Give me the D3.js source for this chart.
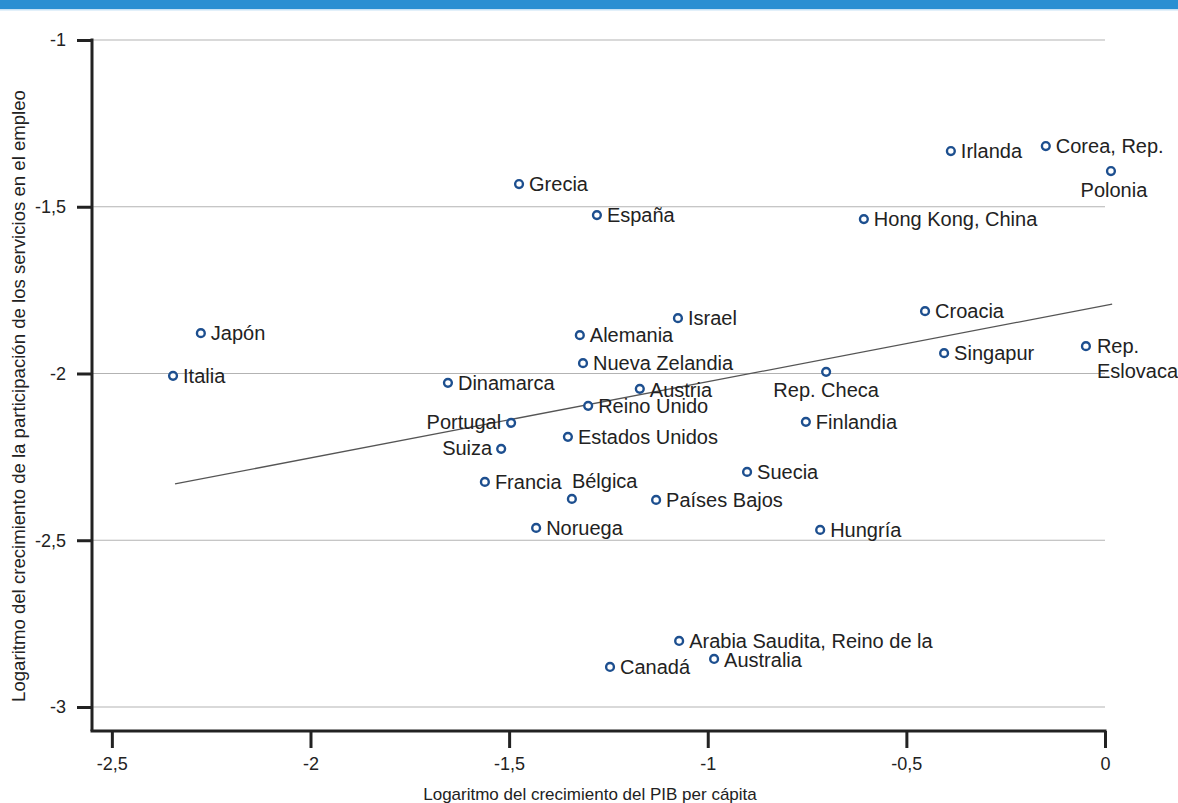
<!DOCTYPE html>
<html>
<head>
<meta charset="utf-8">
<script src="https://cdn.jsdelivr.net/npm/d3@7"></script>
<style>
  html, body { margin: 0; padding: 0; background: #fff; }
  svg { display: block; font-family: "Liberation Sans", Arial, Helvetica, sans-serif; }
</style>
</head>
<body>
<svg id="chart" width="1178" height="803"></svg>
<script>
// Economies and their (log GDP per capita growth, log services employment share growth)
const countries = [
  "Irlanda", "Corea, Rep.", "Polonia", "Grecia", "España", "Hong Kong, China",
  "Croacia", "Israel", "Japón", "Alemania", "Singapur", "Rep. Eslovaca",
  "Nueva Zelandia", "Italia", "Rep. Checa", "Dinamarca", "Austria", "Reino Unido",
  "Finlandia", "Portugal", "Estados Unidos", "Suiza", "Suecia", "Francia",
  "Bélgica", "Países Bajos", "Noruega", "Hungría", "Arabia Saudita, Reino de la",
  "Australia", "Canadá"
];
const gdpGrowth = [
  -0.388, -0.149, 0.015, -1.475, -1.279, -0.607,
  -0.453, -1.075, -2.276, -1.322, -0.405, -0.048,
  -1.314, -2.346, -0.702, -1.654, -1.171, -1.301,
  -0.753, -1.495, -1.352, -1.520, -0.901, -1.561,
  -1.342, -1.130, -1.432, -0.717, -1.072,
  -0.984, -1.246
];
const servicesGrowth = [
  -1.333, -1.318, -1.393, -1.432, -1.525, -1.537,
  -1.813, -1.834, -1.879, -1.885, -1.939, -1.918,
  -1.969, -2.007, -1.995, -2.028, -2.046, -2.097,
  -2.145, -2.148, -2.190, -2.226, -2.295, -2.325,
  -2.376, -2.379, -2.463, -2.469, -2.802,
  -2.856, -2.880
];

// Fitted trend line, given by its two end points
const trendX = [-2.341, 0.018];
const trendY = [-2.331, -1.792];

// Axis ticks
const xTicks = [-2.5, -2, -1.5, -1, -0.5, 0];
const xTickLabels = ["-2,5", "-2", "-1,5", "-1", "-0,5", "0"];
const yTicks = [-1, -1.5, -2, -2.5, -3];
const yTickLabels = ["-1", "-1,5", "-2", "-2,5", "-3"];

const xTitle = "Logaritmo del crecimiento del PIB per cápita";
const yTitle = "Logaritmo del crecimiento de la participación de los servicios en el empleo";

// Label placement for points whose label does not sit to the right of the marker
const labelPlacement = {
  "Polonia":       { anchor: "middle", dx: 3,  dy: 26 },
  "Rep. Checa":    { anchor: "middle", dx: 0,  dy: 25 },
  "Portugal":      { anchor: "end",    dx: -10, dy: 6 },
  "Suiza":         { anchor: "end",    dx: -9, dy: 6 },
  "Bélgica":       { anchor: "start",  dx: 0,  dy: -11 },
  "Austria":       { anchor: "start",  dx: 10, dy: 8 },
  "Australia":     { anchor: "start",  dx: 10, dy: 8 },
  "Rep. Eslovaca": { anchor: "start",  dx: 11, dy: 7, lines: ["Rep.", "Eslovaca"] }
};

const svg = d3.select("#chart");
const W = 1178, H = 803;
const mLeft = 92, mRight = 1105, mTop = 40, mBottom = 731;

// Header band
svg.append("rect").attr("x", 0).attr("y", 0).attr("width", W).attr("height", 9).attr("fill", "#2a8fd2");
svg.append("rect").attr("x", 0).attr("y", 9).attr("width", W).attr("height", 1.5).attr("fill", "#c6e2f5");

const x = d3.scaleLinear().domain([-2.55, 0]).range([mLeft, mRight]);
const y = d3.scaleLinear().domain([-3.072, -1]).range([mBottom, mTop]);

// Horizontal gridlines
svg.append("g")
  .selectAll("line")
  .data(yTicks)
  .join("line")
  .attr("x1", mLeft).attr("x2", mRight)
  .attr("y1", d => y(d)).attr("y2", d => y(d))
  .attr("stroke", "#b3b3b3")
  .attr("stroke-width", 1.2);

// Y axis
const yAxis = svg.append("g")
  .attr("transform", `translate(${mLeft},0)`)
  .call(d3.axisLeft(y).tickValues(yTicks).tickFormat((d, i) => yTickLabels[i]).tickSize(15).tickPadding(11).tickSizeOuter(0));
yAxis.select(".domain").attr("stroke", "#222").attr("stroke-width", 3).attr("d", `M0,${mTop - 1.5}V${mBottom}`);
yAxis.selectAll(".tick line").attr("stroke", "#222").attr("stroke-width", 3);
yAxis.selectAll(".tick text").attr("fill", "#222").style("font-size", "18px");

// X axis
const xAxis = svg.append("g")
  .attr("transform", `translate(0,${mBottom})`)
  .call(d3.axisBottom(x).tickValues(xTicks).tickFormat((d, i) => xTickLabels[i]).tickSize(17).tickPadding(9).tickSizeOuter(0));
xAxis.select(".domain").attr("stroke", "#222").attr("stroke-width", 3).attr("d", `M${mLeft - 1.5},0H${mRight + 1.5}`);
xAxis.selectAll(".tick line").attr("stroke", "#222").attr("stroke-width", 3);
xAxis.selectAll(".tick text").attr("fill", "#222").style("font-size", "18px");

// Axis titles
svg.append("text")
  .attr("x", 590).attr("y", 800)
  .attr("text-anchor", "middle")
  .attr("fill", "#222")
  .style("font-size", "17px")
  .text(xTitle);
svg.append("text")
  .attr("transform", "translate(25,396) rotate(-90)")
  .attr("text-anchor", "middle")
  .attr("fill", "#222")
  .style("font-size", "18.6px")
  .text(yTitle);

// Trend line
svg.append("line")
  .attr("x1", x(trendX[0])).attr("y1", y(trendY[0]))
  .attr("x2", x(trendX[1])).attr("y2", y(trendY[1]))
  .attr("stroke", "#555")
  .attr("stroke-width", 1.3);

const points = countries.map((c, i) => ({ name: c, gx: gdpGrowth[i], sy: servicesGrowth[i] }));

// Markers
svg.append("g")
  .selectAll("circle")
  .data(points)
  .join("circle")
  .attr("cx", d => x(d.gx))
  .attr("cy", d => y(d.sy))
  .attr("r", 3.9)
  .attr("fill", "#fff")
  .attr("stroke", "#1d4f8f")
  .attr("stroke-width", 2.4);

// Labels
const labels = svg.append("g")
  .selectAll("text")
  .data(points)
  .join("text")
  .attr("fill", "#222")
  .style("font-size", "20px")
  .attr("text-anchor", d => (labelPlacement[d.name] || {}).anchor || "start")
  .attr("x", d => x(d.gx) + ((labelPlacement[d.name] || {}).dx ?? 10))
  .attr("y", d => y(d.sy) + ((labelPlacement[d.name] || {}).dy ?? 7));

labels.each(function (d) {
  const p = labelPlacement[d.name];
  const t = d3.select(this);
  if (p && p.lines) {
    p.lines.forEach((ln, k) => {
      t.append("tspan").attr("x", t.attr("x")).attr("dy", k === 0 ? 0 : 25).text(ln);
    });
  } else {
    t.text(d.name);
  }
});
</script>
</body>
</html>
